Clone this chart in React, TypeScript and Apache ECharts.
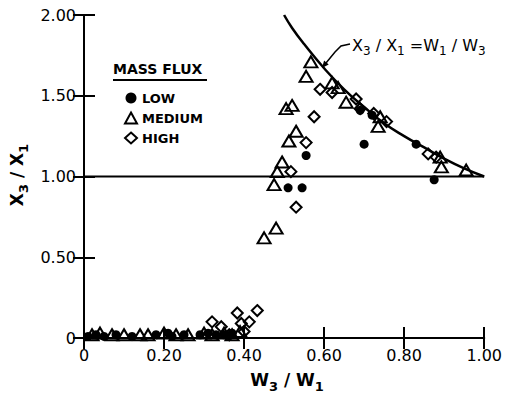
import React, { useEffect, useRef } from "react";
import * as echarts from "echarts";

// ---- data ----
const xTickLabels = ["0", "0.20", "0.40", "0.60", "0.80", "1.00"];
const yTickLabels = ["0", "0.50", "1.00", "1.50", "2.00"];

const lowPoints: [number, number][] = [
  [0.01, 0.01], [0.03, 0.02], [0.05, 0.01], [0.08, 0.02], [0.12, 0.01],
  [0.18, 0.02], [0.21, 0.03], [0.22, 0.01], [0.25, 0.02], [0.29, 0.02],
  [0.31, 0.03], [0.33, 0.02], [0.35, 0.02], [0.37, 0.03],
  [0.51, 0.93], [0.545, 0.93], [0.555, 1.13], [0.69, 1.41], [0.72, 1.38],
  [0.70, 1.20], [0.83, 1.20], [0.875, 0.98],
];

const mediumPoints: [number, number][] = [
  [0.02, 0.02], [0.04, 0.03], [0.07, 0.02], [0.10, 0.02], [0.14, 0.02],
  [0.16, 0.02], [0.20, 0.03], [0.23, 0.02], [0.26, 0.02], [0.30, 0.03],
  [0.32, 0.02], [0.35, 0.03], [0.37, 0.02], [0.39, 0.04],
  [0.45, 0.62], [0.48, 0.68], [0.475, 0.95], [0.483, 1.03], [0.495, 1.09],
  [0.512, 1.22], [0.53, 1.28], [0.505, 1.42], [0.52, 1.44], [0.555, 1.62],
  [0.567, 1.71], [0.62, 1.58], [0.635, 1.55], [0.655, 1.46], [0.735, 1.31],
  [0.74, 1.37], [0.89, 1.12], [0.893, 1.06], [0.955, 1.04],
];

const highPoints: [number, number][] = [
  [0.32, 0.10], [0.343, 0.07], [0.363, 0.02], [0.383, 0.155], [0.393, 0.09],
  [0.413, 0.10], [0.433, 0.17], [0.40, 0.04],
  [0.53, 0.81], [0.517, 1.03], [0.555, 1.21], [0.575, 1.37], [0.59, 1.54],
  [0.62, 1.52], [0.68, 1.48], [0.69, 1.42], [0.724, 1.39], [0.756, 1.34],
  [0.86, 1.14], [0.88, 1.12],
];

const curveX = [0.5, 0.52, 0.55, 0.6, 0.65, 0.7, 0.75, 0.8, 0.85, 0.9, 0.95, 1.0];
const curveY = [2.0, 1.92, 1.82, 1.67, 1.54, 1.43, 1.33, 1.25, 1.18, 1.11, 1.05, 1.0];

const unityLine: [number, number][] = [[0, 1], [1, 1]];

const FONT = "DejaVu Sans";

export default function App() {
  const ref = useRef<HTMLDivElement>(null);

  useEffect(() => {
    if (!ref.current) return;
    const chart = echarts.init(ref.current, undefined, { renderer: "svg" });

    const xFmt = (v: number) => xTickLabels[Math.round(v / 0.2)] ?? "";
    const yFmt = (v: number) => yTickLabels[Math.round(v / 0.5)] ?? "";

    const axisLine = { show: true, lineStyle: { color: "#000", width: 2 } };
    const axisTick = { show: true, inside: true, length: 11, lineStyle: { color: "#000", width: 2 } };

    const subRich = {
      a: { fontFamily: FONT, fontSize: 17, fontWeight: "bold", color: "#000", lineHeight: 21, verticalAlign: "top" },
      s: { fontFamily: FONT, fontSize: 13, fontWeight: "bold", color: "#000", lineHeight: 14, verticalAlign: "bottom" },
    };
    const annRich = {
      a: { fontFamily: FONT, fontSize: 16, color: "#000", lineHeight: 20, verticalAlign: "top" },
      s: { fontFamily: FONT, fontSize: 12, color: "#000", lineHeight: 13, verticalAlign: "bottom" },
    };

    const hollow = { color: "rgba(255,255,255,0)", borderColor: "#000", borderWidth: 2, opacity: 1 };

    chart.setOption({
      animation: false,
      backgroundColor: "#fff",
      grid: { left: 84, right: 19, top: 15, bottom: 62 },
      xAxis: [
        {
          type: "value", min: 0, max: 1, interval: 0.2, position: "bottom",
          axisLine, axisTick, splitLine: { show: false },
          axisLabel: { formatter: xFmt, fontFamily: FONT, fontSize: 16, color: "#000", margin: 9 },
        },
        {
          type: "value", min: 0, max: 1, interval: 0.2, position: "top",
          axisLine, axisTick, splitLine: { show: false }, axisLabel: { show: false },
        },
      ],
      yAxis: [
        {
          type: "value", min: 0, max: 2, interval: 0.5, position: "left",
          axisLine, axisTick, splitLine: { show: false },
          axisLabel: { formatter: yFmt, fontFamily: FONT, fontSize: 16, color: "#000", margin: 8 },
        },
        {
          type: "value", min: 0, max: 2, interval: 0.5, position: "right",
          axisLine, axisTick, splitLine: { show: false }, axisLabel: { show: false },
        },
      ],
      legend: {
        orient: "vertical",
        left: 124,
        top: 90,
        padding: 0,
        itemWidth: 12,
        itemHeight: 11,
        itemGap: 4,
        data: ["LOW", "MEDIUM", "HIGH"],
        textStyle: { fontFamily: FONT, fontSize: 13, fontWeight: "bold", color: "#000", lineHeight: 16 },
      },
      series: [
        {
          type: "line", data: unityLine, symbol: "none", silent: true,
          lineStyle: { color: "#000", width: 2 }, z: 1,
        },
        {
          type: "line", data: curveX.map((x, i) => [x, curveY[i]]), symbol: "none", smooth: true,
          silent: true, lineStyle: { color: "#000", width: 2.5 }, z: 1,
        },
        {
          name: "LOW", type: "scatter", data: lowPoints, symbol: "circle", symbolSize: 9,
          itemStyle: { color: "#000", opacity: 1 }, z: 3,
        },
        {
          name: "MEDIUM", type: "scatter", data: mediumPoints, symbol: "triangle", symbolSize: [13, 11],
          itemStyle: hollow, z: 3,
        },
        {
          name: "HIGH", type: "scatter", data: highPoints, symbol: "diamond", symbolSize: [11, 11],
          itemStyle: hollow, z: 3,
        },
      ],
      graphic: [
        {
          type: "text", left: 113, top: 62,
          style: { text: "MASS FLUX", fontFamily: FONT, fontSize: 14, fontWeight: "bold", fill: "#000" },
        },
        {
          type: "line", shape: { x1: 113, y1: 80, x2: 207, y2: 80 },
          style: { stroke: "#000", lineWidth: 2 },
        },
        {
          type: "text", x: 287, y: 382,
          style: {
            text: "{a|W}{s|3}{a| / W}{s|1}", rich: subRich,
            align: "center", verticalAlign: "middle",
          },
        },
        {
          type: "text", x: 19, y: 175, rotation: Math.PI / 2,
          style: {
            text: "{a|X}{s|3}{a| / X}{s|1}", rich: subRich,
            align: "center", verticalAlign: "middle",
          },
        },
        {
          type: "text", x: 352, y: 47,
          style: {
            text: "{a|X}{s|3}{a| / X}{s|1}{a| =W}{s|1}{a| / W}{s|3}", rich: annRich,
            align: "left", verticalAlign: "middle",
          },
        },
        {
          type: "polyline",
          shape: { points: [[350, 44], [341, 46], [335, 52], [326, 63]] },
          style: { stroke: "#000", lineWidth: 1.5, fill: null },
        },
        {
          type: "polygon",
          shape: { points: [[322, 68], [328.7, 64.4], [324.1, 60.6]] },
          style: { fill: "#000" },
        },
      ],
    });

    return () => chart.dispose();
  }, []);

  return <div ref={ref} style={{ width: 505, height: 400, position: "absolute", left: 0, top: 0 }} />;
}
